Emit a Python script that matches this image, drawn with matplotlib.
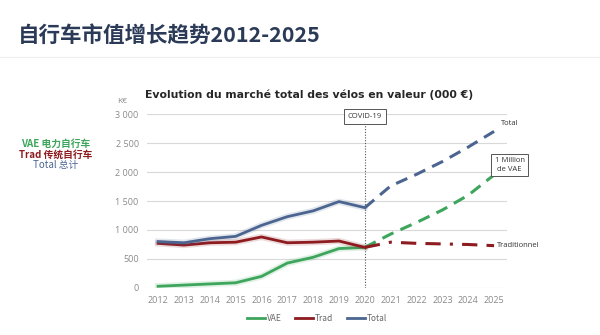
import matplotlib.pyplot as plt
import matplotlib.patheffects as pe

plt.rcParams['font.family'] = ['Noto Sans CJK SC', 'DejaVu Sans']

years = list(range(2012, 2026))
vae = [30, 50, 70, 90, 200, 430, 530, 680, 700, 930, 1130, 1345, 1600, 1950]
trad = [770, 740, 780, 790, 880, 780, 790, 810, 700, 790, 770, 760, 750, 730]
total = [800, 780, 850, 890, 1080, 1230, 1330, 1490, 1385, 1760, 1960, 2180, 2430, 2700]
split_year = 2020
y_ticks = [0, 500, 1000, 1500, 2000, 2500, 3000]
y_tick_labels = ['0', '500', '1 000', '1 500', '2 000', '2 500', '3 000']

c_vae = '#3da55c'
c_trad = '#8e1b1f'
c_total = '#4b6590'
grid_c = '#d9d9d9'
tick_c = '#8a8a8a'

fig = plt.figure(figsize=(6, 3.35), dpi=100)
fig.patch.set_facecolor('white')

fig.text(0.03, 0.895, '自行车市值增长趋势2012-2025', fontsize=15.5, fontweight='bold',
         color='#2b3a57', va='center', ha='left')
fig.add_artist(plt.Line2D([0.0, 1.0], [0.83, 0.83], color='#eeeeee', lw=0.8))

ax = fig.add_axes([0.245, 0.1403, 0.6, 0.5194])
ax.set_xlim(2011.57, 2025.5)
ax.set_ylim(0, 3000)
for s in ax.spines.values():
    s.set_visible(False)
ax.set_yticks(y_ticks)
ax.set_yticklabels(y_tick_labels)
ax.set_xticks(years)
ax.grid(axis='y', color=grid_c, lw=0.8)
ax.set_axisbelow(True)
ax.tick_params(length=0, labelsize=6.5, labelcolor=tick_c, pad=6)
for lab in ax.get_xticklabels() + ax.get_yticklabels():
    lab.set_family(['Open Sans', 'DejaVu Sans'])

idx = years.index(split_year)
glow = lambda c: [pe.Stroke(linewidth=4.5, foreground=c, alpha=0.16), pe.Normal()]

for vals, c, dash in [(vae, c_vae, (0, (4, 2.5))),
                      (trad, c_trad, (0, (5, 3, 1, 3, 5, 3))),
                      (total, c_total, (0, (4, 2.5)))]:
    ax.plot(years[:idx + 1], vals[:idx + 1], color=c, lw=2, path_effects=glow(c), zorder=3)
    ax.plot(years[idx:], vals[idx:], color=c, lw=2.2, linestyle=dash, zorder=3)

# covid marker
ax.axvline(split_year, ymin=0, ymax=0.985, color='#555555', lw=0.8, linestyle=(0, (1, 1.5)), zorder=2)
ax.text(split_year, 2955, 'COVID-19', fontsize=5.5, ha='center', va='center', color='#333333',
        family=['Open Sans', 'DejaVu Sans'],
        bbox=dict(boxstyle='square,pad=0.5', fc='white', ec='#555555', lw=0.7), zorder=4)

ax.text(2025.25, 2830, 'Total', fontsize=5.5, color='#333333', ha='left', va='center',
        family=['Open Sans', 'DejaVu Sans'], clip_on=False)
ax.text(2025.6, 2125, '1 Million\nde VAE', fontsize=5.5, color='#333333', ha='center', va='center',
        linespacing=1.3, family=['Open Sans', 'DejaVu Sans'], clip_on=False,
        bbox=dict(boxstyle='square,pad=0.45', fc='white', ec='#555555', lw=0.7))
ax.text(2025.1, 730, 'Traditionnel', fontsize=5.5, color='#333333', ha='left', va='center',
        family=['Open Sans', 'DejaVu Sans'], clip_on=False)

ax.text(-0.07, 1.07, 'K€', transform=ax.transAxes, fontsize=6, color=tick_c, ha='center', va='center',
        family=['Open Sans', 'DejaVu Sans'])
fig.text(0.515, 0.718, 'Evolution du marché total des vélos en valeur (000 €)', fontsize=7.8,
         fontweight='bold', color='#262626', ha='center', va='center', family='DejaVu Sans')

# left annotation
fig.text(0.092, 0.572, 'VAE 电力自行车', fontsize=7, color=c_vae, fontweight='bold', ha='center', va='center')
fig.text(0.092, 0.538, 'Trad 传统自行车', fontsize=7, color=c_trad, fontweight='bold', ha='center', va='center')
fig.text(0.092, 0.508, 'Total 总计', fontsize=7, color=c_total, ha='center', va='center')

handles = [plt.Line2D([], [], color=c, lw=2) for c in (c_vae, c_trad, c_total)]
leg = fig.legend(handles, ['VAE', 'Trad', 'Total'], loc='center', bbox_to_anchor=(0.528, 0.05),
                 ncol=3, frameon=False, fontsize=6, handlelength=2.2, handletextpad=0.2,
                 columnspacing=1.6, labelcolor='#666666')

fig.savefig('out.png', dpi=100, facecolor='white')
